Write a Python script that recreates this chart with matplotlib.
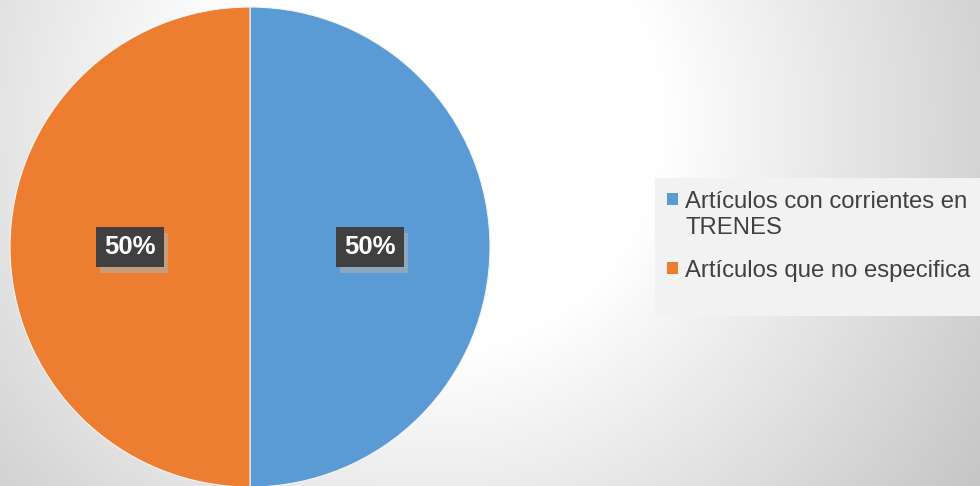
import numpy as np
import matplotlib
matplotlib.use("Agg")
import matplotlib.pyplot as plt
from matplotlib.patches import Rectangle
import matplotlib.patheffects as pe

# ---- data ----
categories = ["Artículos con corrientes en\nTRENES", "Artículos que no especifica"]
values = [50, 50]
colors = ["#5B9BD5", "#ED7D31"]

W, H = 980, 486
fig = plt.figure(figsize=(W / 100, H / 100), dpi=100)

# ---- background radial gradient ----
bg = fig.add_axes([0, 0, 1, 1])
yy, xx = np.mgrid[0:H, 0:W]
cx, cy = 430.0, 120.0
r = np.sqrt((xx - cx) ** 2 + (yy - cy) ** 2)
v = 1 - 0.2 * np.clip(r - 230.0, 0, None) / 380.0
v = np.clip(v, 0, 1)
bg.imshow(np.dstack([v, v, v]), extent=[0, W, H, 0], aspect="auto", interpolation="bilinear")
bg.set_xlim(0, W)
bg.set_ylim(H, 0)
bg.axis("off")

# ---- pie ----
pcx, pcy, rad = 250, 247, 240
ax = fig.add_axes([(pcx - rad) / W, (H - pcy - rad) / H, 2 * rad / W, 2 * rad / H])
ax.set_facecolor("none")
wedges, _ = ax.pie(values, colors=colors, startangle=90, counterclock=False,
                   radius=1.0, wedgeprops=dict(edgecolor="#f4f4f4", linewidth=0.8))
ax.set_xlim(-1, 1)
ax.set_ylim(-1, 1)
ax.set_aspect("equal")
ax.axis("off")

total = sum(values)
start = 90.0
for val in values:
    ang = np.deg2rad(start - val / total * 360 / 2)
    start -= val / total * 360
    x, y = 0.5 * np.cos(ang), 0.5 * np.sin(ang)
    t = ax.text(x, y, f"{val / total * 100:.0f}%", ha="center", va="center",
                fontsize=18.5, fontweight="bold", family="Liberation Sans", color="white",
                bbox=dict(boxstyle="square,pad=0.32", facecolor="#404040",
                          edgecolor="none"))
    t.get_bbox_patch().set_path_effects([
        pe.SimplePatchShadow(offset=(3.2, -4.3), shadow_rgbFace="#b0b0b0", alpha=0.6),
        pe.Normal()])

# ---- legend (manual) ----
bg.add_patch(Rectangle((655, 178), 330, 138, facecolor="#F2F2F2", edgecolor="none"))
baselines = [208, 277]
line_gap = 26
for lab, col, by in zip(categories, colors, baselines):
    bg.add_patch(Rectangle((667, by - 15), 11, 12, facecolor=col, edgecolor="none"))
    for i, line in enumerate(lab.split("\n")):
        bg.text(685, by + i * line_gap, line, ha="left", va="baseline", fontsize=17.2,
                family="Liberation Sans", color="#404040")

fig.savefig("out.png", dpi=100)
